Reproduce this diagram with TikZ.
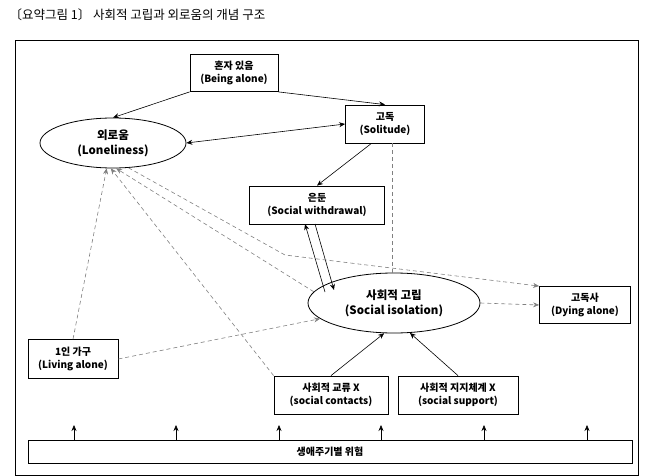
\documentclass[tikz,border=0pt]{standalone}
\usepackage{fontspec}
\setmainfont{Noto Sans CJK KR}
\usetikzlibrary{shapes.geometric,arrows.meta}
\begin{document}
\begin{tikzpicture}[x=1pt,y=-1pt,
 box/.style={draw,thick,fill=white,align=center,inner sep=2pt,font=\fontsize{10}{13}\selectfont\bfseries},
 ell/.style={draw,thick,ellipse,align=center,inner sep=0pt,font=\fontsize{11.5}{15}\selectfont\bfseries},
 ar/.style={-{Stealth[length=6pt,width=5pt]},semithick},
 da/.style={-{Stealth[length=6pt,width=5pt]},semithick,gray,dash pattern=on 4pt off 3pt},
 dl/.style={semithick,gray,dash pattern=on 4pt off 3pt}]
\useasboundingbox (0,0) rectangle (658,476);
\node[anchor=west,font=\fontsize{12.5}{15}\selectfont] (title) at (6,15) {〔요약그림 1〕 사회적 고립과 외로움의 개념 구조};
\draw[thick] (15,40) rectangle (638,475.5);
\node[box,minimum width=88,minimum height=37] (being) at (234,73) {혼자 있음\\(Being alone)};
\node[box,minimum width=79,minimum height=38] (sol) at (385,124) {고독\\(Solitude)};
\node[ell,minimum width=146,minimum height=50] (lone) at (113,143) {외로움\\(Loneliness)};
\node[box,minimum width=135,minimum height=38] (wd) at (317,205) {은둔\\(Social withdrawal)};
\node[ell,minimum width=172,minimum height=60] (iso) at (394,303) {사회적 고립\\(Social isolation)};
\node[box,minimum width=91,minimum height=37] (dying) at (585,305) {고독사\\(Dying alone)};
\node[box,minimum width=90,minimum height=39] (living) at (73,359) {1인 가구\\(Living alone)};
\node[box,minimum width=114,minimum height=38] (contact) at (331,395) {사회적 교류 X\\(social contacts)};
\node[box,minimum width=120,minimum height=38] (support) at (458,395) {사회적 지지체계 X\\(social support)};
\node[box,minimum width=604,minimum height=23] (bar) at (330,451.5) {생애주기별 위험};
\foreach \i/\x in {1/74,2/176,3/279,4/381,5/484,6/587}{
  \coordinate (t\i) at (\x,425);
  \draw[ar] (bar.north -| t\i) -- (t\i);}
% solid
\draw[ar] (being.south west) -- (lone.north);
\draw[ar] (being.south east) -- (sol.north);
\draw[{Stealth[length=6pt,width=5pt]}-{Stealth[length=6pt,width=5pt]},semithick] (lone.east) -- (sol.west);
\draw[ar] (sol.-125) -- (wd.north);
\coordinate (w1) at (305,224); \coordinate (w2) at (315,224);
\coordinate (i1) at (325,292); \coordinate (i2) at (334,290);
\draw[ar] (i1) -- (w1);
\draw[ar] (w2) -- (i2);
\draw[ar] (contact.north) -- (iso.-108);
\draw[ar] (support.north) -- (iso.-62);
% dashed
\coordinate (bend) at (285,255);
\coordinate (solb) at (392,143);
\draw[dl] (solb) -- (solb |- iso.north);
\draw[da] (lone.-58) -- (bend) -- (dying.north west);
\draw[da] (living.north) -- (lone.-104);
\draw[da] (contact.north west) -- (lone.-95);
\draw[da] (iso.172) -- (lone.-83);
\draw[da] (living.east) -- (iso.192);
\draw[da] (iso.east) -- (dying.west);
\end{tikzpicture}
\end{document}
